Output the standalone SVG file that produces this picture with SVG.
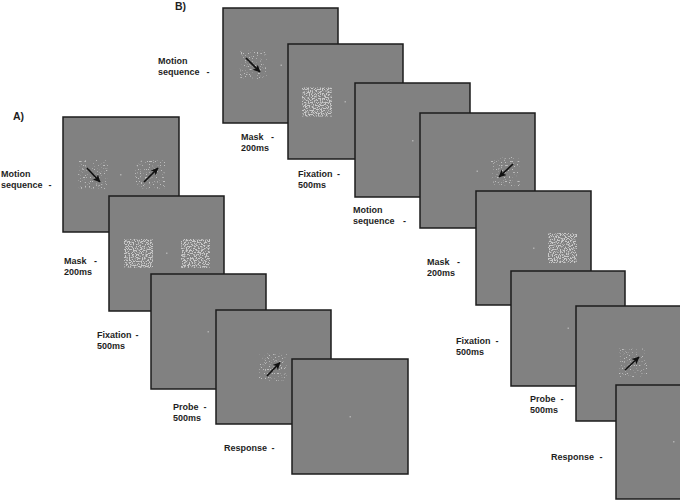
<svg xmlns="http://www.w3.org/2000/svg" width="680" height="500" viewBox="0 0 680 500">
<defs>
<style>
.pn{fill:#818181;stroke:#1c1c1c;stroke-width:1.5}
.fx{fill:#b0b0b0}
.lb{font-family:"Liberation Sans",Arial,sans-serif;font-weight:bold;font-size:9px;fill:#1e1e1e}
.hd{font-family:"Liberation Sans",Arial,sans-serif;font-weight:bold;font-size:10.5px;fill:#1e1e1e}
.ar{stroke:#111;stroke-width:1.7;fill:none;marker-end:url(#ah)}
.dn{fill:#fff;filter:url(#dense)}
.sp{fill:#fff;filter:url(#sparse)}
</style>
<marker id="ah" markerUnits="userSpaceOnUse" markerWidth="8" markerHeight="8" refX="7" refY="4" orient="auto">
<path d="M0,0.3 L7.5,4 L0,7.7 L2,4 z" fill="#111"/>
</marker>
<filter id="dense" x="0" y="0" width="1" height="1" color-interpolation-filters="sRGB">
<feTurbulence type="fractalNoise" baseFrequency="0.75" numOctaves="1" seed="5" result="n"/>
<feColorMatrix in="n" type="matrix" values="0 0 0 0 0.79  0 0 0 0 0.79  0 0 0 0 0.79  9 0 0 0 -4.3" result="m"/>
<feComposite in="m" in2="SourceGraphic" operator="in"/>
</filter>
<filter id="sparse" x="0" y="0" width="1" height="1" color-interpolation-filters="sRGB">
<feTurbulence type="fractalNoise" baseFrequency="0.75" numOctaves="1" seed="11" result="n"/>
<feColorMatrix in="n" type="matrix" values="0 0 0 0 0.75  0 0 0 0 0.75  0 0 0 0 0.75  10 0 0 0 -6.15" result="m"/>
<feComposite in="m" in2="SourceGraphic" operator="in"/>
</filter>
</defs>
<rect width="680" height="500" fill="#fff"/>

<text class="hd" x="13" y="119.5">A)</text>
<text class="hd" x="175" y="9.5">B)</text>

<g id="A1">
<rect class="pn" x="63" y="117" width="116" height="115"/>
<rect class="sp" x="78" y="160" width="30" height="29"/>
<rect class="sp" x="135" y="160" width="30" height="29"/>
<rect class="fx" x="120" y="174" width="1.5" height="1.5"/>
<line class="ar" x1="87" y1="168" x2="100" y2="182"/>
<line class="ar" x1="144" y1="182" x2="158" y2="168"/>
<text class="lb"><tspan x="1" y="176.5">Motion</tspan><tspan x="1" y="187.5">sequence</tspan><tspan x="48.5" y="187.5">-</tspan></text>
</g>

<g id="A2">
<rect class="pn" x="109" y="196" width="115" height="115"/>
<rect class="dn" x="124" y="239" width="29" height="29"/>
<rect class="dn" x="181" y="239" width="29" height="29"/>
<rect class="fx" x="166" y="252.5" width="1.5" height="1.5"/>
<text class="lb"><tspan x="64" y="263.5">Mask</tspan><tspan x="94" y="263.5">-</tspan><tspan x="64" y="275">200ms</tspan></text>
</g>

<g id="A3">
<rect class="pn" x="151" y="274" width="115" height="115"/>
<rect class="fx" x="207.5" y="331" width="1.5" height="1.5"/>
<text class="lb"><tspan x="97" y="337.5">Fixation</tspan><tspan x="135.5" y="337.5">-</tspan><tspan x="97" y="349">500ms</tspan></text>
</g>

<g id="A4">
<rect class="pn" x="216" y="310" width="115" height="114"/>
<rect class="sp" x="259" y="353" width="28" height="28"/>
<line class="ar" x1="267" y1="376" x2="280" y2="362.5"/>
<text class="lb"><tspan x="173" y="409.5">Probe</tspan><tspan x="203.5" y="409.5">-</tspan><tspan x="173" y="420.5">500ms</tspan></text>
</g>

<g id="A5">
<rect class="pn" x="292" y="359" width="116" height="115"/>
<rect class="fx" x="349.5" y="416" width="1.5" height="1.5"/>
<text class="lb"><tspan x="224" y="451">Response</tspan><tspan x="271.5" y="451">-</tspan></text>
</g>

<g id="B1">
<rect class="pn" x="223" y="8" width="115" height="115"/>
<rect class="sp" x="239" y="50" width="28" height="29"/>
<rect class="fx" x="280.5" y="64.5" width="1.5" height="1.5"/>
<line class="ar" x1="246" y1="58" x2="260" y2="72"/>
<text class="lb"><tspan x="158" y="64">Motion</tspan><tspan x="158" y="75">sequence</tspan><tspan x="206.5" y="75">-</tspan></text>
</g>

<g id="B2">
<rect class="pn" x="288" y="44" width="115" height="115"/>
<rect class="dn" x="302" y="87.5" width="30" height="29"/>
<rect class="fx" x="344.5" y="101" width="1.5" height="1.5"/>
<text class="lb"><tspan x="241" y="140">Mask</tspan><tspan x="271" y="140">-</tspan><tspan x="241" y="151">200ms</tspan></text>
</g>

<g id="B3">
<rect class="pn" x="355" y="83" width="115" height="114"/>
<rect class="fx" x="412" y="140" width="1.5" height="1.5"/>
<text class="lb"><tspan x="298" y="176.5">Fixation</tspan><tspan x="337" y="176.5">-</tspan><tspan x="298" y="187.5">500ms</tspan></text>
</g>

<g id="B4">
<rect class="pn" x="420" y="113" width="115" height="115"/>
<rect class="sp" x="491" y="157" width="29" height="29"/>
<rect class="fx" x="476.5" y="170.5" width="1.5" height="1.5"/>
<line class="ar" x1="513" y1="164" x2="499" y2="177"/>
<text class="lb"><tspan x="353" y="212.5">Motion</tspan><tspan x="353" y="223.5">sequence</tspan><tspan x="403" y="223.5">-</tspan></text>
</g>

<g id="B5">
<rect class="pn" x="476" y="191" width="115" height="114"/>
<rect class="dn" x="548" y="233" width="29" height="30"/>
<rect class="fx" x="533" y="247.5" width="1.5" height="1.5"/>
<text class="lb"><tspan x="427" y="265">Mask</tspan><tspan x="457" y="265">-</tspan><tspan x="427" y="276">200ms</tspan></text>
</g>

<g id="B6">
<rect class="pn" x="511" y="271" width="114" height="115"/>
<rect class="fx" x="567.5" y="327.5" width="1.5" height="1.5"/>
<text class="lb"><tspan x="456" y="344">Fixation</tspan><tspan x="495.5" y="344">-</tspan><tspan x="456" y="355">500ms</tspan></text>
</g>

<g id="B7">
<rect class="pn" x="576" y="306" width="116" height="115"/>
<rect class="sp" x="619" y="348" width="28" height="29"/>
<line class="ar" x1="625" y1="370" x2="639" y2="357"/>
<text class="lb"><tspan x="530" y="401.5">Probe</tspan><tspan x="560.5" y="401.5">-</tspan><tspan x="530" y="412.5">500ms</tspan></text>
</g>

<g id="B8">
<rect class="pn" x="616" y="385" width="116" height="114"/>
<rect class="fx" x="673" y="441" width="1.5" height="1.5"/>
<text class="lb"><tspan x="551" y="460">Response</tspan><tspan x="599.5" y="460">-</tspan></text>
</g>
</svg>
